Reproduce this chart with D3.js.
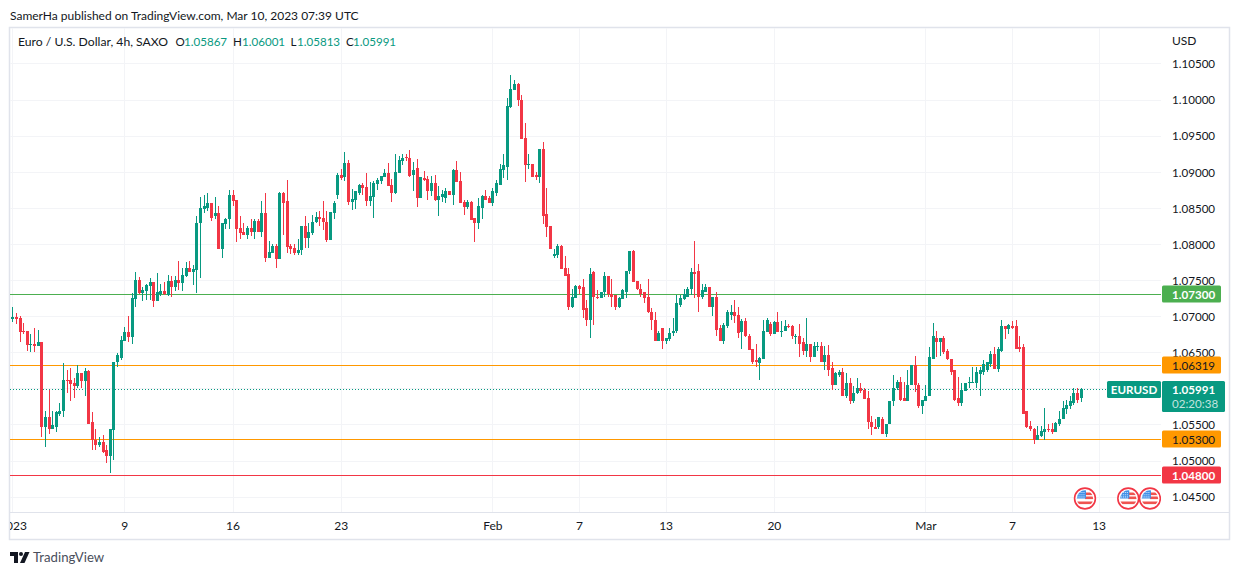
<!DOCTYPE html>
<html><head><meta charset="utf-8">
<script src="https://cdnjs.cloudflare.com/ajax/libs/d3/7.8.5/d3.min.js"></script>
<style>
html,body{margin:0;padding:0;background:#fff;overflow:hidden}
svg{display:block}
text{font-family:Lato,sans-serif;}
</style></head><body><svg id="c" width="1240" height="575"></svg>
<script>
const opens=[1.0696,1.0699,1.0697,1.0679,1.0679,1.0660,1.0662,1.0659,1.0664,1.0546,
1.0560,1.0544,1.0547,1.0565,1.0568,1.0611,1.0611,1.0607,1.0603,1.0621,
1.0610,1.0624,1.0553,1.0529,1.0521,1.0525,1.0515,1.0506,1.0542,1.0636,
1.0642,1.0665,1.0678,1.0671,1.0724,1.0750,1.0732,1.0735,1.0742,1.0747,
1.0721,1.0731,1.0735,1.0729,1.0749,1.0740,1.0750,1.0746,1.0756,1.0767,
1.0761,1.0764,1.0829,1.0849,1.0850,1.0856,1.0838,1.0843,1.0793,1.0828,
1.0834,1.0868,1.0861,1.0822,1.0817,1.0813,1.0822,1.0817,1.0832,1.0817,
1.0843,1.0781,1.0788,1.0797,1.0779,1.0871,1.0859,1.0797,1.0795,1.0788,
1.0792,1.0825,1.0808,1.0815,1.0830,1.0837,1.0836,1.0831,1.0805,1.0843,
1.0868,1.0895,1.0893,1.0912,1.0858,1.0861,1.0870,1.0881,1.0879,1.0859,
1.0865,1.0883,1.0887,1.0893,1.0898,1.0881,1.0870,1.0898,1.0915,1.0920,
1.0919,1.0895,1.0905,1.0863,1.0891,1.0890,1.0873,1.0884,1.0861,1.0865,
1.0863,1.0873,1.0868,1.0902,1.0887,1.0858,1.0851,1.0858,1.0836,1.0829,
1.0850,1.0867,1.0863,1.0857,1.0871,1.0881,1.0903,1.0907,1.0989,1.1013,
1.1021,1.1000,1.0946,1.0909,1.0911,1.0895,1.0893,1.0931,1.0841,1.0825,
1.0783,1.0784,1.0797,1.0766,1.0758,1.0712,1.0725,1.0741,1.0740,1.0711,
1.0694,1.0761,1.0727,1.0725,1.0733,1.0755,1.0731,1.0729,1.0713,1.0723,
1.0734,1.0762,1.0790,1.0748,1.0738,1.0733,1.0726,1.0706,1.0695,1.0666,
1.0683,1.0665,1.0668,1.0676,1.0679,1.0716,1.0723,1.0727,1.0737,1.0761,
1.0762,1.0726,1.0734,1.0740,1.0713,1.0726,1.0683,1.0666,1.0686,1.0702,
1.0705,1.0701,1.0678,1.0693,1.0673,1.0654,1.0639,1.0635,1.0640,1.0678,
1.0689,1.0675,1.0692,1.0678,1.0679,1.0686,1.0686,1.0672,1.0673,1.0664,
1.0651,1.0661,1.0644,1.0657,1.0658,1.0636,1.0646,1.0628,1.0604,1.0619,
1.0622,1.0590,1.0608,1.0583,1.0593,1.0601,1.0598,1.0586,1.0554,1.0547,
1.0546,1.0558,1.0537,1.0550,1.0582,1.0600,1.0609,1.0586,1.0583,1.0605,
1.0632,1.0605,1.0575,1.0583,1.0589,1.0641,1.0670,1.0664,1.0669,1.0651,
1.0641,1.0625,1.0586,1.0579,1.0596,1.0607,1.0608,1.0608,1.0620,1.0623,
1.0625,1.0634,1.0648,1.0627,1.0652,1.0686,1.0682,1.0686,1.0686,1.0657,
1.0657,1.0568,1.0548,1.0544,1.0529,1.0534,1.0540,1.0544,1.0544,1.0539,
1.0551,1.0557,1.0572,1.0576,1.0580,1.0594,1.05867];
const highs=[1.0712,1.0704,1.0700,1.0690,1.0679,1.0675,1.0683,1.0681,1.0664,1.0569,
1.0597,1.0568,1.0568,1.0579,1.0635,1.0625,1.0628,1.0614,1.0632,1.0621,
1.0628,1.0626,1.0567,1.0543,1.0533,1.0536,1.0522,1.0544,1.0637,1.0649,
1.0672,1.0685,1.0700,1.0732,1.0761,1.0754,1.0740,1.0745,1.0753,1.0747,
1.0760,1.0745,1.0747,1.0757,1.0756,1.0756,1.0777,1.0767,1.0775,1.0777,
1.0771,1.0839,1.0865,1.0868,1.0870,1.0857,1.0865,1.0853,1.0829,1.0836,
1.0874,1.0875,1.0861,1.0838,1.0829,1.0825,1.0835,1.0835,1.0835,1.0859,
1.0871,1.0804,1.0800,1.0800,1.0872,1.0872,1.0889,1.0800,1.0800,1.0807,
1.0825,1.0838,1.0829,1.0840,1.0844,1.0845,1.0859,1.0845,1.0844,1.0859,
1.0898,1.0904,1.0927,1.0916,1.0876,1.0873,1.0883,1.0884,1.0898,1.0886,
1.0887,1.0891,1.0894,1.0904,1.0912,1.0890,1.0925,1.0922,1.0925,1.0925,
1.0930,1.0913,1.0918,1.0893,1.0901,1.0894,1.0894,1.0895,1.0880,1.0875,
1.0877,1.0873,1.0904,1.0915,1.0900,1.0861,1.0861,1.0859,1.0836,1.0864,
1.0868,1.0875,1.0867,1.0877,1.0889,1.0911,1.0925,1.1002,1.1034,1.1027,
1.1023,1.1006,1.0968,1.0924,1.0911,1.0899,1.0932,1.0941,1.0877,1.0825,
1.0793,1.0800,1.0798,1.0783,1.0766,1.0737,1.0743,1.0743,1.0752,1.0722,
1.0766,1.0762,1.0736,1.0734,1.0761,1.0755,1.0751,1.0729,1.0726,1.0738,
1.0763,1.0790,1.0791,1.0748,1.0744,1.0734,1.0752,1.0711,1.0706,1.0680,
1.0683,1.0670,1.0683,1.0697,1.0729,1.0729,1.0737,1.0740,1.0766,1.0804,
1.0772,1.0745,1.0745,1.0740,1.0726,1.0733,1.0688,1.0690,1.0708,1.0715,
1.0722,1.0712,1.0696,1.0698,1.0675,1.0654,1.0661,1.0644,1.0694,1.0698,
1.0692,1.0693,1.0705,1.0693,1.0694,1.0689,1.0687,1.0675,1.0689,1.0669,
1.0698,1.0661,1.0664,1.0664,1.0664,1.0658,1.0660,1.0636,1.0623,1.0626,
1.0628,1.0621,1.0614,1.0603,1.0614,1.0607,1.0601,1.0596,1.0561,1.0557,
1.0560,1.0560,1.0551,1.0583,1.0619,1.0612,1.0615,1.0609,1.0625,1.0632,
1.0645,1.0607,1.0584,1.0605,1.0657,1.0691,1.0680,1.0670,1.0673,1.0655,
1.0641,1.0625,1.0615,1.0607,1.0608,1.0615,1.0629,1.0630,1.0630,1.0639,
1.0637,1.0651,1.0657,1.0657,1.0694,1.0686,1.0689,1.0693,1.0694,1.0672,
1.0661,1.0568,1.0555,1.0545,1.0548,1.0548,1.0573,1.0550,1.0552,1.0554,
1.0568,1.0582,1.0584,1.0589,1.0600,1.0600,1.06001];
const lows=[1.0692,1.0689,1.0664,1.0675,1.0651,1.0650,1.0650,1.0658,1.0533,1.0519,
1.0537,1.0543,1.0540,1.0561,1.0560,1.0594,1.0582,1.0586,1.0601,1.0601,
1.0590,1.0551,1.0515,1.0514,1.0519,1.0511,1.0497,1.0483,1.0501,1.0629,
1.0639,1.0665,1.0664,1.0662,1.0713,1.0731,1.0721,1.0722,1.0722,1.0713,
1.0721,1.0728,1.0729,1.0728,1.0727,1.0735,1.0736,1.0735,1.0754,1.0761,
1.0743,1.0732,1.0753,1.0843,1.0846,1.0832,1.0834,1.0793,1.0781,1.0820,
1.0820,1.0852,1.0802,1.0807,1.0813,1.0807,1.0811,1.0807,1.0817,1.0809,
1.0775,1.0781,1.0788,1.0767,1.0779,1.0813,1.0788,1.0786,1.0784,1.0784,
1.0785,1.0795,1.0795,1.0813,1.0829,1.0825,1.0819,1.0802,1.0805,1.0834,
1.0862,1.0888,1.0887,1.0854,1.0847,1.0848,1.0868,1.0868,1.0852,1.0852,
1.0836,1.0875,1.0883,1.0893,1.0880,1.0858,1.0869,1.0898,1.0909,1.0915,
1.0893,1.0873,1.0851,1.0863,1.0887,1.0861,1.0866,1.0859,1.0838,1.0858,
1.0856,1.0868,1.0854,1.0886,1.0856,1.0840,1.0848,1.0833,1.0803,1.0821,
1.0835,1.0861,1.0857,1.0853,1.0867,1.0881,1.0891,1.0889,1.0988,1.1013,
1.0991,1.0945,1.0886,1.0904,1.0892,1.0888,1.0884,1.0828,1.0810,1.0793,
1.0781,1.0781,1.0765,1.0756,1.0709,1.0711,1.0725,1.0730,1.0697,1.0686,
1.0669,1.0687,1.0723,1.0725,1.0726,1.0726,1.0713,1.0709,1.0711,1.0723,
1.0725,1.0759,1.0747,1.0736,1.0727,1.0718,1.0704,1.0681,1.0666,1.0666,
1.0655,1.0662,1.0665,1.0673,1.0676,1.0712,1.0722,1.0727,1.0729,1.0725,
1.0706,1.0723,1.0733,1.0713,1.0700,1.0673,1.0665,1.0661,1.0684,1.0695,
1.0691,1.0669,1.0654,1.0671,1.0653,1.0633,1.0629,1.0612,1.0640,1.0678,
1.0673,1.0675,1.0678,1.0671,1.0679,1.0683,1.0668,1.0662,1.0643,1.0646,
1.0644,1.0637,1.0644,1.0651,1.0636,1.0625,1.0617,1.0598,1.0604,1.0615,
1.0589,1.0587,1.0578,1.0580,1.0592,1.0594,1.0585,1.0544,1.0536,1.0544,
1.0544,1.0537,1.0533,1.0550,1.0576,1.0598,1.0583,1.0582,1.0582,1.0605,
1.0595,1.0573,1.0565,1.0582,1.0589,1.0641,1.0643,1.0645,1.0647,1.0639,
1.0619,1.0583,1.0576,1.0576,1.0596,1.0601,1.0607,1.0600,1.0589,1.0619,
1.0622,1.0629,1.0627,1.0622,1.0650,1.0668,1.0675,1.0682,1.0655,1.0650,
1.0565,1.0545,1.0541,1.0523,1.0529,1.0533,1.0529,1.0539,1.0537,1.0539,
1.0548,1.0557,1.0564,1.0572,1.0577,1.0579,1.05813];
const closes=[1.0699,1.0696,1.0678,1.0678,1.0660,1.0662,1.0659,1.0664,1.0546,1.0560,
1.0544,1.0549,1.0567,1.0569,1.0611,1.0610,1.0606,1.0603,1.0621,1.0610,
1.0624,1.0551,1.0529,1.0521,1.0525,1.0512,1.0506,1.0543,1.0637,1.0646,
1.0667,1.0678,1.0671,1.0725,1.0750,1.0732,1.0736,1.0743,1.0747,1.0721,
1.0734,1.0735,1.0731,1.0749,1.0740,1.0750,1.0746,1.0757,1.0767,1.0761,
1.0765,1.0829,1.0850,1.0852,1.0857,1.0836,1.0843,1.0793,1.0829,1.0834,
1.0868,1.0860,1.0821,1.0815,1.0813,1.0822,1.0817,1.0832,1.0817,1.0843,
1.0781,1.0789,1.0797,1.0779,1.0871,1.0857,1.0796,1.0793,1.0788,1.0792,
1.0825,1.0808,1.0816,1.0831,1.0837,1.0835,1.0830,1.0805,1.0844,1.0856,
1.0895,1.0891,1.0912,1.0858,1.0862,1.0873,1.0881,1.0877,1.0859,1.0866,
1.0884,1.0888,1.0894,1.0898,1.0880,1.0870,1.0900,1.0916,1.0919,1.0919,
1.0894,1.0902,1.0863,1.0893,1.0888,1.0873,1.0884,1.0861,1.0866,1.0869,
1.0873,1.0868,1.0902,1.0886,1.0856,1.0851,1.0858,1.0833,1.0829,1.0852,
1.0867,1.0861,1.0857,1.0873,1.0885,1.0904,1.0909,1.0991,1.1014,1.1021,
1.0999,1.0945,1.0909,1.0911,1.0893,1.0893,1.0931,1.0839,1.0824,1.0793,
1.0786,1.0797,1.0765,1.0756,1.0712,1.0726,1.0741,1.0738,1.0709,1.0694,
1.0759,1.0726,1.0725,1.0734,1.0755,1.0730,1.0727,1.0713,1.0725,1.0736,
1.0763,1.0790,1.0747,1.0737,1.0731,1.0725,1.0705,1.0694,1.0666,1.0677,
1.0665,1.0669,1.0677,1.0680,1.0718,1.0725,1.0730,1.0738,1.0761,1.0759,
1.0726,1.0736,1.0740,1.0713,1.0726,1.0681,1.0665,1.0687,1.0705,1.0705,
1.0700,1.0677,1.0693,1.0672,1.0653,1.0637,1.0636,1.0642,1.0679,1.0694,
1.0675,1.0692,1.0678,1.0680,1.0686,1.0685,1.0672,1.0673,1.0662,1.0651,
1.0661,1.0644,1.0658,1.0658,1.0636,1.0646,1.0626,1.0604,1.0621,1.0622,
1.0590,1.0607,1.0583,1.0594,1.0601,1.0596,1.0585,1.0553,1.0546,1.0544,
1.0560,1.0537,1.0551,1.0583,1.0601,1.0609,1.0584,1.0583,1.0605,1.0632,
1.0604,1.0575,1.0584,1.0590,1.0643,1.0672,1.0664,1.0669,1.0650,1.0640,
1.0623,1.0584,1.0579,1.0598,1.0608,1.0609,1.0609,1.0622,1.0625,1.0634,
1.0636,1.0648,1.0627,1.0654,1.0686,1.0682,1.0687,1.0684,1.0655,1.0655,
1.0565,1.0547,1.0543,1.0529,1.0536,1.0541,1.0544,1.0543,1.0539,1.0552,
1.0558,1.0573,1.0577,1.0582,1.0594,1.0584,1.05991];

const priceGrid=[1.045,1.05,1.055,1.06,1.065,1.07,1.075,1.08,1.085,1.09,1.095,1.1,1.105];
const priceLabels=[1.045,1.05,1.055,1.065,1.07,1.075,1.08,1.085,1.09,1.095,1.1,1.105];
const timeTickBars=[0,31,61,91,133,157,181,211,253,277,301];
const timeTickLabels=["2023","9","16","23","Feb","7","13","20","Mar","7","13"];
const levelPrices=[1.073,1.06319,1.053,1.048];
const levelLabels=["1.07300","1.06319","1.05300","1.04800"];
const levelColors=["#4caf50","#ff9800","#ff9800","#f23645"];
const levelTextColors=["#ffffff","#131722","#131722","#ffffff"];
const eventBars=[297,309,315];
const lastPrice=1.05991;

const FS=12, NS=11.6;
const up="#089981",down="#f23645",gridC="#f3f4f7",borderC="#e0e3eb",textC="#131722";
const L=10,R=1161,T=28,B=512;
const x=d3.scaleLinear().domain([31,277]).range([124.3,1012]);
const y=d3.scaleLinear().domain([1.05,1.1]).range([460.5,99.5]);
const svg=d3.select("#c");
const defs=svg.append("defs");
defs.append("clipPath").attr("id","pane").append("rect").attr("x",L).attr("y",T).attr("width",R-L).attr("height",B-T);
defs.append("clipPath").attr("id","flag").append("circle").attr("r",8.2);
defs.append("clipPath").attr("id","txc").append("rect").attr("x",L).attr("y",0).attr("width",R-L).attr("height",28);

svg.append("text").attr("x",10).attr("y",19.5).attr("font-size",FS).attr("fill",textC).text("SamerHa published on TradingView.com, Mar 10, 2023 07:39 UTC");

svg.append("rect").attr("x",9.5).attr("y",27.5).attr("width",1220).attr("height",512).attr("fill","#fff").attr("stroke",borderC).attr("stroke-width",1.5);

const pane=svg.append("g").attr("clip-path","url(#pane)");

const gridY=d3.axisRight(y).tickValues(priceGrid).tickSize(R-L).tickFormat("");
pane.append("g").attr("transform",`translate(${L},0)`).call(gridY)
  .call(g=>g.select(".domain").remove())
  .call(g=>g.selectAll("line").attr("stroke",gridC).attr("shape-rendering","crispEdges"));
const gridX=d3.axisBottom(x).tickValues(timeTickBars).tickSize(B-T).tickFormat("");
pane.append("g").attr("transform",`translate(0,${T})`).call(gridX)
  .call(g=>g.select(".domain").remove())
  .call(g=>g.selectAll("line").attr("stroke",gridC).attr("shape-rendering","crispEdges"));

pane.selectAll("line.level").data(levelPrices).join("line").attr("class","level")
  .attr("x1",L).attr("x2",R).attr("y1",d=>Math.round(y(d))+.5).attr("y2",d=>Math.round(y(d))+.5)
  .attr("stroke",(d,i)=>levelColors[i]).attr("stroke-width",1);

pane.append("line").attr("x1",L).attr("x2",1107).attr("y1",Math.round(y(lastPrice))+.5).attr("y2",Math.round(y(lastPrice))+.5)
  .attr("stroke",up).attr("stroke-width",1).attr("stroke-dasharray","1 2");

const bars=opens.map((o,i)=>({i,o,h:highs[i],l:lows[i],c:closes[i]}));
const cg=pane.append("g").attr("shape-rendering","crispEdges");
const col=d=>d.c>=d.o?up:down;
cg.selectAll("line.w").data(bars).join("line").attr("class","w")
  .attr("x1",d=>Math.round(x(d.i))+.5).attr("x2",d=>Math.round(x(d.i))+.5)
  .attr("y1",d=>y(d.h)).attr("y2",d=>y(d.l)).attr("stroke",col);
cg.selectAll("rect.b").data(bars).join("rect").attr("class","b")
  .attr("x",d=>Math.round(x(d.i))-1).attr("width",3)
  .attr("y",d=>Math.round(y(Math.max(d.o,d.c))))
  .attr("height",d=>Math.max(1,Math.round(y(Math.min(d.o,d.c)))-Math.round(y(Math.max(d.o,d.c)))))
  .attr("fill",col);

const flagG=pane.selectAll("g.ev").data(eventBars).join("g").attr("class","ev")
  .attr("transform",d=>`translate(${x(d)+.8},498.5)`);
flagG.append("circle").attr("r",10.4).attr("fill","#fff").attr("stroke","#f23645").attr("stroke-width",1.6);
const fi=flagG.append("g").attr("clip-path","url(#flag)");
fi.append("rect").attr("x",-9).attr("y",-9).attr("width",18).attr("height",18).attr("fill","#fff");
[-7,-2,3].forEach(o=>fi.append("rect").attr("x",o<0?0:-9).attr("y",o<-2?-6:o).attr("width",o<0?9:18).attr("height",2.6).attr("fill","#ef5350"));
fi.append("rect").attr("x",-9).attr("y",-9).attr("width",10).attr("height",9).attr("fill","#3f8fe8");
fi.selectAll("circle.s").data(d3.range(12)).join("circle").attr("class","s").attr("r",.55).attr("fill","#fff")
  .attr("cx",d=>-7+(d%4)*2).attr("cy",d=>-6+Math.floor(d/4)*2.2);

const xAxis=d3.axisBottom(x).tickValues(timeTickBars).tickSize(0).tickPadding(0).tickFormat((d,i)=>timeTickLabels[i]);
svg.append("line").attr("x1",L).attr("x2",1230).attr("y1",B+.5).attr("y2",B+.5).attr("stroke",borderC).attr("stroke-width",1);
svg.append("g").attr("transform",`translate(0,${B})`).attr("clip-path","url(#txc)").call(xAxis).call(g=>g.select(".domain").remove())
  .call(g=>g.selectAll("text").attr("y",0).attr("dy","17.5").attr("font-size",FS).attr("font-family","Lato,sans-serif").attr("fill",textC));

const yAxis=d3.axisRight(y).tickValues(priceLabels).tickSize(0).tickPadding(0).tickFormat(d3.format(".5f"));
svg.append("g").attr("transform","translate(1172,0.6)").call(yAxis).call(g=>g.select(".domain").remove())
  .call(g=>g.selectAll("text").attr("font-size",NS).attr("font-family","Lato,sans-serif").attr("fill",textC));
svg.append("text").attr("x",1172).attr("y",45).attr("font-size",FS).attr("fill",textC).text("USD");

const tag=svg.selectAll("g.tag").data(levelPrices).join("g").attr("class","tag")
  .attr("transform",d=>`translate(1162,${Math.round(y(d))})`);
tag.append("rect").attr("x",0).attr("y",-8.5).attr("width",59).attr("height",17).attr("rx",1.5).attr("fill",(d,i)=>levelColors[i]);
tag.append("text").attr("x",10).attr("y",4.5).attr("font-size",NS).attr("fill",(d,i)=>levelTextColors[i])
  .attr("font-weight",(d,i)=>levelTextColors[i]==="#ffffff"?700:400).text((d,i)=>levelLabels[i]);

const ly=Math.round(y(lastPrice));
svg.append("rect").attr("x",1162).attr("y",ly-8).attr("width",63).attr("height",31).attr("rx",1.5).attr("fill",up);
svg.append("text").attr("x",1172).attr("y",ly+4.5).attr("font-size",NS).attr("font-weight",700).attr("fill","#fff").text(d3.format(".5f")(lastPrice));
svg.append("text").attr("x",1172).attr("y",ly+19).attr("font-size",NS).attr("fill","#fff").attr("fill-opacity",.75).text("02:20:38");
svg.append("rect").attr("x",1107).attr("y",ly-8).attr("width",54).attr("height",17).attr("rx",1.5).attr("fill",up);
svg.append("text").attr("x",1134).attr("y",ly+4.5).attr("text-anchor","middle").attr("font-size",NS).attr("font-weight",700).attr("fill","#fff").text("EURUSD");

const hdr=svg.append("g").attr("font-size",NS);
hdr.append("text").attr("x",18).attr("y",46).attr("font-size",12.2).attr("fill",textC).text("Euro / U.S. Dollar, 4h, SAXO");
[["O",175.5,184,opens],["H",233,242,highs],["L",290.5,297,lows],["C",346,353,closes]].forEach(([k,a,b,arr])=>{
  hdr.append("text").attr("x",a).attr("y",46).attr("fill",textC).text(k);
  hdr.append("text").attr("x",b).attr("y",46).attr("fill",up).text(d3.format(".5f")(arr[arr.length-1]));
});

const lg=svg.append("g").attr("fill","#131722").attr("transform","translate(10,552)");
lg.append("path").attr("d","M0 0H8V11H4V4H0Z");
lg.append("circle").attr("cx",11).attr("cy",2).attr("r",2);
lg.append("path").attr("d","M15 0H19.5L14.5 11H10Z");
svg.append("text").attr("x",33).attr("y",562).attr("font-size",13.2).attr("fill","#4a4f5c").text("TradingView");
</script></body></html>
